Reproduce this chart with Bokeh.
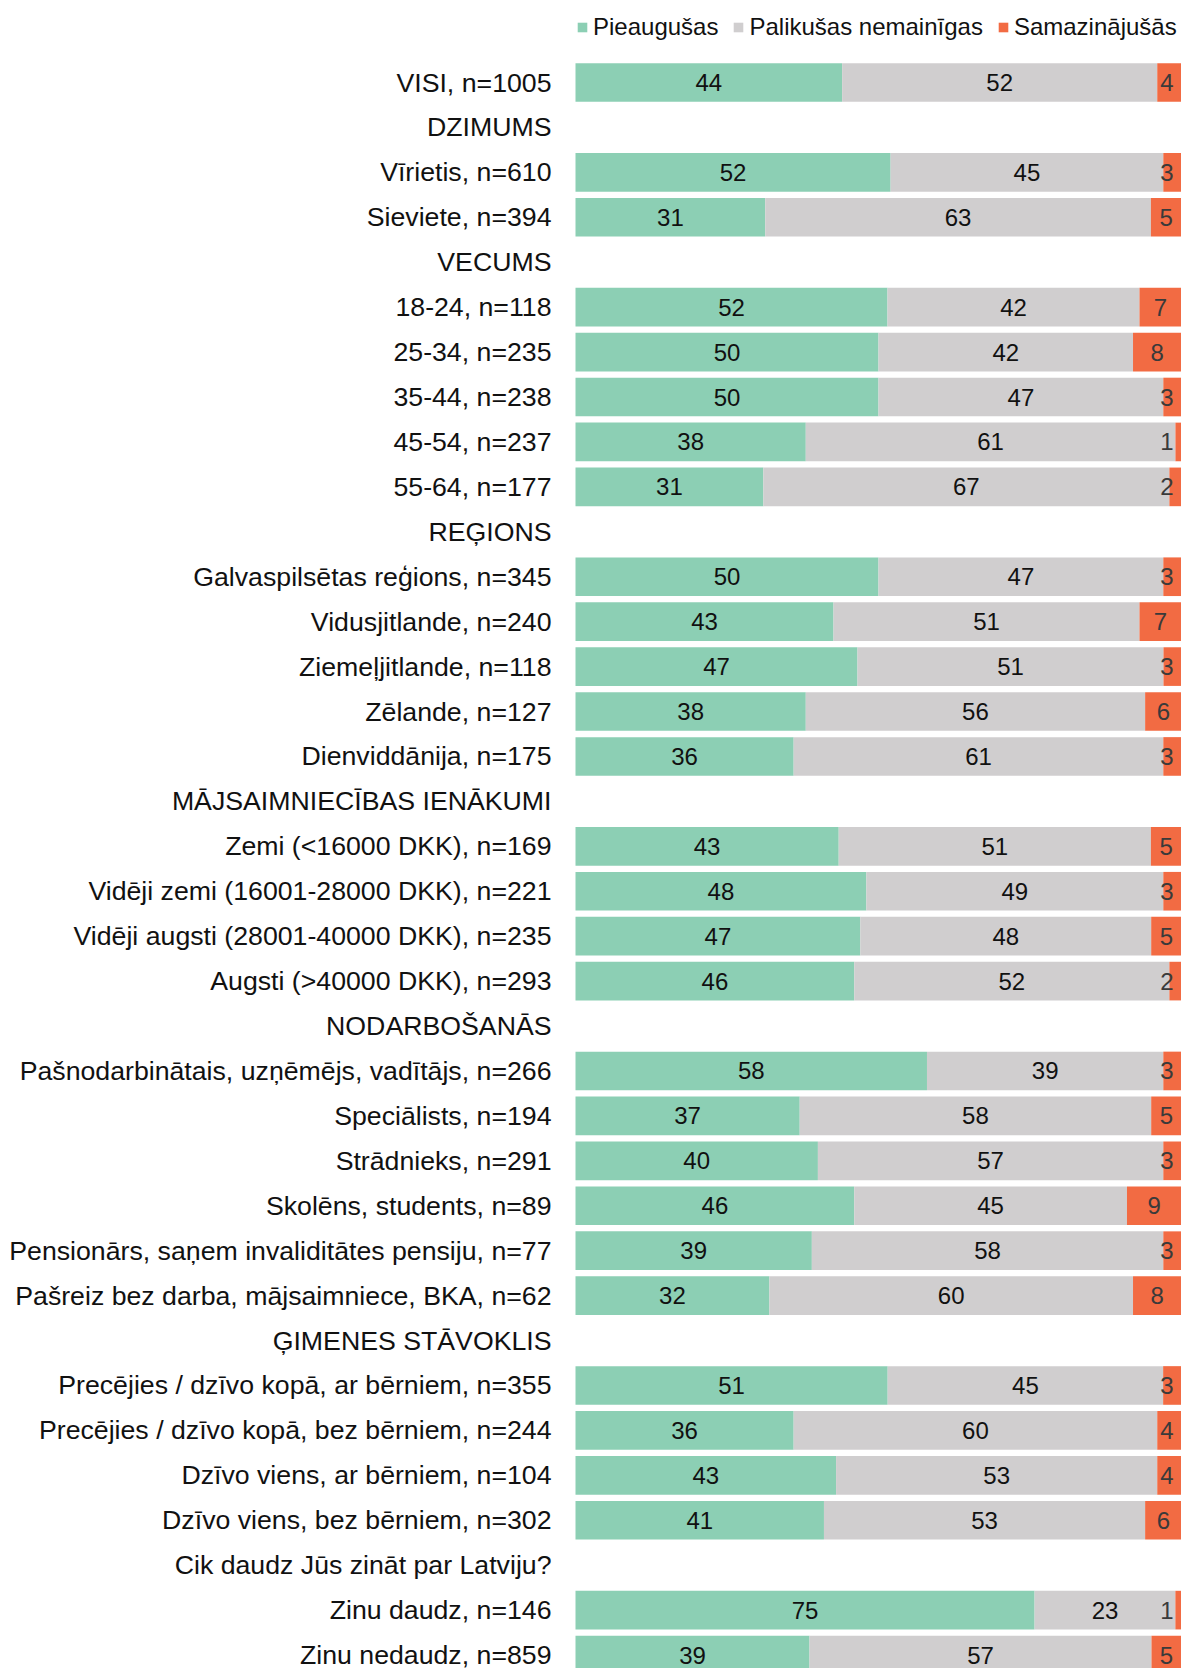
import numpy as np
from bokeh.plotting import figure
from bokeh.models import ColumnDataSource, Range1d, Legend, LegendItem
from bokeh.core.properties import value
from bokeh.embed import file_html
from bokeh.resources import INLINE

labels = [
    "VISI, n=1005", "DZIMUMS", "Vīrietis, n=610", "Sieviete, n=394", "VECUMS",
    "18-24, n=118", "25-34, n=235", "35-44, n=238", "45-54, n=237", "55-64, n=177",
    "REĢIONS", "Galvaspilsētas reģions, n=345", "Vidusjitlande, n=240",
    "Ziemeļjitlande, n=118", "Zēlande, n=127", "Dienviddānija, n=175",
    "MĀJSAIMNIECĪBAS IENĀKUMI", "Zemi (<16000 DKK), n=169",
    "Vidēji zemi (16001-28000 DKK), n=221", "Vidēji augsti (28001-40000 DKK), n=235",
    "Augsti (>40000 DKK), n=293", "NODARBOŠANĀS",
    "Pašnodarbinātais, uzņēmējs, vadītājs, n=266", "Speciālists, n=194",
    "Strādnieks, n=291", "Skolēns, students, n=89",
    "Pensionārs, saņem invaliditātes pensiju, n=77",
    "Pašreiz bez darba, mājsaimniece, BKA, n=62", "ĢIMENES STĀVOKLIS",
    "Precējies / dzīvo kopā, ar bērniem, n=355", "Precējies / dzīvo kopā, bez bērniem, n=244",
    "Dzīvo viens, ar bērniem, n=104", "Dzīvo viens, bez bērniem, n=302",
    "Cik daudz Jūs zināt par Latviju?", "Zinu daudz, n=146", "Zinu nedaudz, n=859",
]
grew = [44, None, 52, 31, None, 52, 50, 50, 38, 31, None, 50, 43, 47, 38, 36, None,
        43, 48, 47, 46, None, 58, 37, 40, 46, 39, 32, None, 51, 36, 43, 41, None, 75, 39]
same = [52, None, 45, 63, None, 42, 42, 47, 61, 67, None, 47, 51, 51, 56, 61, None,
        51, 49, 48, 52, None, 39, 58, 57, 45, 58, 60, None, 45, 60, 53, 53, None, 23, 57]
dec = [4, None, 3, 5, None, 7, 8, 3, 1, 2, None, 3, 7, 3, 6, 3, None,
       5, 3, 5, 2, None, 3, 5, 3, 9, 3, 8, None, 3, 4, 4, 6, None, 1, 5]
series = ["Pieaugušas", "Palikušas nemainīgas", "Samazinājušās"]
colors = ["#8ccfb4", "#d0cecf", "#f26b43"]

# layout (pixels)
W, H = 1181, 1668
bar_left_px = 575
px_per_unit = (W - bar_left_px) / 100.0
row0_px = 82.0
pitch = 44.93

x_start = -bar_left_px / px_per_unit
y_top = row0_px / pitch
y_bot = -(H - row0_px) / pitch

p = figure(width=W, height=H, output_backend="svg", toolbar_location=None,
           x_range=Range1d(x_start, 100), y_range=Range1d(y_bot, y_top),
           min_border=0, min_border_left=0, min_border_right=0,
           min_border_top=0, min_border_bottom=0)
p.axis.visible = False
p.grid.visible = False
p.outline_line_color = None
p.background_fill_color = None
p.border_fill_color = "white"

FONT = "Liberation Sans"

ys = [-i for i in range(len(labels))]

# category / header labels
p.text(x=[0] * len(labels), y=ys, text=labels, text_align="right", text_baseline="middle",
       x_offset=-24, text_font=value(FONT), text_font_size="26.7px", text_color="#111111")

idx = [i for i in range(len(labels)) if grew[i] is not None]
g = np.array([grew[i] for i in idx], float)
s = np.array([same[i] for i in idx], float)
d = np.array([dec[i] for i in idx], float)
tot = g + s + d
gn, sn, dn = g / tot * 100, s / tot * 100, d / tot * 100

src = ColumnDataSource(dict(y=[ys[i] for i in idx], g=gn, s=sn, d=dn))
rs = p.hbar_stack(["g", "s", "d"], y="y", height=0.86, color=colors, source=src,
                  line_color=None)

# value labels
gx = gn / 2
sx = gn + sn / 2
dx = np.minimum(gn + sn + dn / 2, 97.6)
yv = [ys[i] for i in idx]
VAL_SIZE = "24px"
p.text(x=gx, y=yv, text=[str(int(v)) for v in g], text_align="center",
       text_baseline="middle", text_font=value(FONT), text_font_size=VAL_SIZE,
       text_color="#111111")
p.text(x=sx, y=yv, text=[str(int(v)) for v in s], text_align="center",
       text_baseline="middle", text_font=value(FONT), text_font_size=VAL_SIZE,
       text_color="#111111")
p.text(x=dx, y=yv, text=[str(int(v)) for v in d], text_align="center",
       text_baseline="middle", text_font=value(FONT), text_font_size=VAL_SIZE,
       text_color="#3a3a3a")

legend = Legend(items=[LegendItem(label=series[k], renderers=[rs[k]]) for k in range(3)],
                orientation="horizontal", location=(576, H - 41),
                glyph_width=12, glyph_height=12, label_standoff=5, spacing=14,
                padding=0, margin=0, border_line_color=None,
                background_fill_alpha=0, label_text_font=FONT,
                label_text_font_size="24px", label_height=28, label_text_color="#111111")
p.add_layout(legend)

open("out.html", "w").write(file_html(p, INLINE))
